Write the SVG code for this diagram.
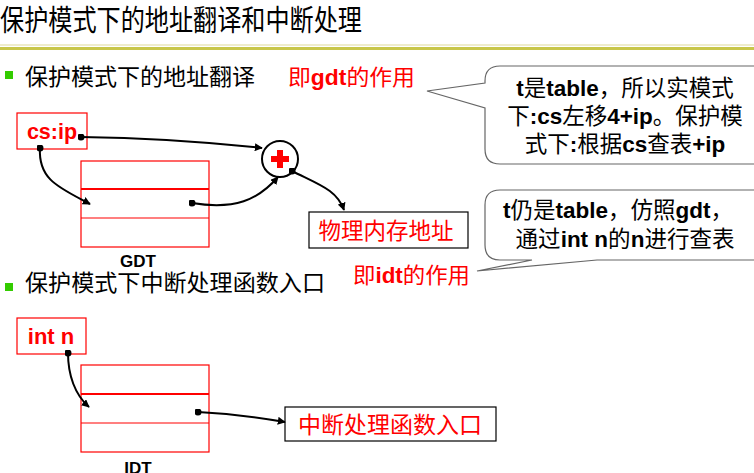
<svg xmlns="http://www.w3.org/2000/svg" width="754" height="473" viewBox="0 0 754 473">
<defs>
<style>
.cn{font-family:"Noto Sans CJK SC","Liberation Sans",sans-serif;}
.b{font-family:"Liberation Sans","Noto Sans CJK SC",sans-serif;font-weight:bold;}
.red{fill:#ff0000;}
.blk{fill:#000;}
.rbox{fill:none;stroke:#ff0000;stroke-width:1.2;}
.kbox{fill:#fff;stroke:#000;stroke-width:1.2;}
.conn{fill:none;stroke:#000;stroke-width:2;}
.call{fill:#fff;stroke:#666;stroke-width:1.2;}
</style>
<marker id="ah" viewBox="0 0 10 10" refX="9" refY="5" markerWidth="4" markerHeight="4" orient="auto" markerUnits="strokeWidth">
<path d="M0,0 L10,5 L0,10 z" fill="#000"/>
</marker>
<marker id="dot" viewBox="0 0 10 10" refX="5" refY="5" markerWidth="3.5" markerHeight="3.5" markerUnits="strokeWidth">
<circle cx="5" cy="5" r="5" fill="#000"/>
</marker>
</defs>
<rect width="754" height="473" fill="#fff"/>

<g id="title">
<text x="0" y="31" class="cn blk" font-size="29" textLength="362" lengthAdjust="spacingAndGlyphs">保护模式下的地址翻译和中断处理</text>
<rect x="0" y="44" width="754" height="2" fill="#eeeccc"/>
<rect x="0" y="47" width="754" height="3" fill="#c8c64a"/>
</g>

<g id="bullet1">
<rect x="5" y="71" width="8" height="8" fill="#33cc00"/>
<text x="25" y="85" class="cn blk" font-size="23" textLength="230" lengthAdjust="spacingAndGlyphs">保护模式下的地址翻译</text>
</g>
<g id="gdt-note">
<text x="288" y="85" class="cn red" font-size="22" textLength="127" lengthAdjust="spacingAndGlyphs">即<tspan class="b">gdt</tspan>的作用</text>
</g>

<g id="callout1">
<path class="call" d="M500,66 H770 V164 H500 Q485,164 485,149 V108 L427,91 L485,83 V81 Q485,66 500,66 Z"/>
<text x="625" y="96" class="cn blk" font-size="22.5" text-anchor="middle"><tspan class="b">t</tspan>是<tspan class="b">table</tspan>，所以实模式</text>
<text x="625" y="124" class="cn blk" font-size="22.5" text-anchor="middle">下<tspan class="b">:cs</tspan>左移<tspan class="b">4+ip</tspan>。保护模</text>
<text x="625" y="152" class="cn blk" font-size="22.5" text-anchor="middle">式下<tspan class="b">:</tspan>根据<tspan class="b">cs</tspan>查表<tspan class="b">+ip</tspan></text>
</g>

<g id="callout2">
<path class="call" d="M500,190 H770 V260 H597 L477,271 L532,260 H500 Q485,260 485,245 V205 Q485,190 500,190 Z"/>
<text x="618" y="218" class="cn blk" font-size="22.5" text-anchor="middle"><tspan class="b">t</tspan>仍是<tspan class="b">table</tspan>，仿照<tspan class="b">gdt</tspan>，</text>
<text x="625" y="247" class="cn blk" font-size="22.5" text-anchor="middle">通过<tspan class="b">int n</tspan>的<tspan class="b">n</tspan>进行查表</text>
</g>

<g id="csip">
<rect class="rbox" x="17" y="113" width="70" height="36"/>
<text x="52" y="139" class="b red" font-size="21.5" text-anchor="middle">cs:ip</text>
</g>

<g id="gdt">
<rect class="rbox" x="81" y="161" width="128" height="86"/>
<line x1="81" y1="189" x2="209" y2="189" stroke="#ff0000" stroke-width="2"/>
<line x1="81" y1="218" x2="209" y2="218" stroke="#ff0000" stroke-width="1.2"/>
<text x="138" y="267" class="b blk" font-size="17" text-anchor="middle">GDT</text>
</g>

<g id="plus">
<circle cx="280" cy="159" r="18" fill="#fff" stroke="#000" stroke-width="2"/>
<rect x="271" y="156" width="18" height="6" fill="#ff0000"/>
<rect x="277" y="150" width="6" height="18" fill="#ff0000"/>
</g>

<g id="phys">
<rect class="kbox" x="309" y="212" width="159" height="36"/>
<text x="386" y="239" class="cn red" font-size="22.5" text-anchor="middle">物理内存地址</text>
</g>

<g id="bullet2">
<rect x="5" y="283" width="8" height="8" fill="#33cc00"/>
<text x="25" y="291" class="cn blk" font-size="23" textLength="300" lengthAdjust="spacingAndGlyphs">保护模式下中断处理函数入口</text>
</g>
<g id="idt-note">
<text x="353" y="283" class="cn red" font-size="22" textLength="117" lengthAdjust="spacingAndGlyphs">即<tspan class="b">idt</tspan>的作用</text>
</g>

<g id="intn">
<rect class="rbox" x="17" y="318" width="69" height="36"/>
<text x="51" y="344" class="b red" font-size="22" text-anchor="middle">int n</text>
</g>

<g id="idt">
<rect class="rbox" x="81" y="365" width="128" height="87"/>
<line x1="81" y1="394" x2="209" y2="394" stroke="#ff0000" stroke-width="2"/>
<line x1="81" y1="423" x2="209" y2="423" stroke="#ff0000" stroke-width="1.2"/>
<text x="138" y="474" class="b blk" font-size="17" text-anchor="middle">IDT</text>
</g>

<g id="handler">
<rect class="kbox" x="285" y="407" width="211" height="34"/>
<text x="390" y="433" class="cn red" font-size="23" text-anchor="middle">中断处理函数入口</text>
</g>

<g id="connectors">
<path class="conn" marker-start="url(#dot)" marker-end="url(#ah)" d="M81,137 Q170,138 262,148"/>
<path class="conn" marker-start="url(#dot)" marker-end="url(#ah)" d="M40,148 C38,180 60,188 90,204"/>
<path class="conn" marker-start="url(#dot)" marker-end="url(#ah)" d="M192,203 C235,210 258,200 278,177"/>
<path class="conn" marker-start="url(#dot)" marker-end="url(#ah)" d="M292,171 C320,185 337,190 344,210"/>
<path class="conn" marker-start="url(#dot)" marker-end="url(#ah)" d="M68,353 C68,375 75,395 89,407"/>
<path class="conn" marker-start="url(#dot)" marker-end="url(#ah)" d="M198,412 Q240,414 285,422"/>
</g>
</svg>
